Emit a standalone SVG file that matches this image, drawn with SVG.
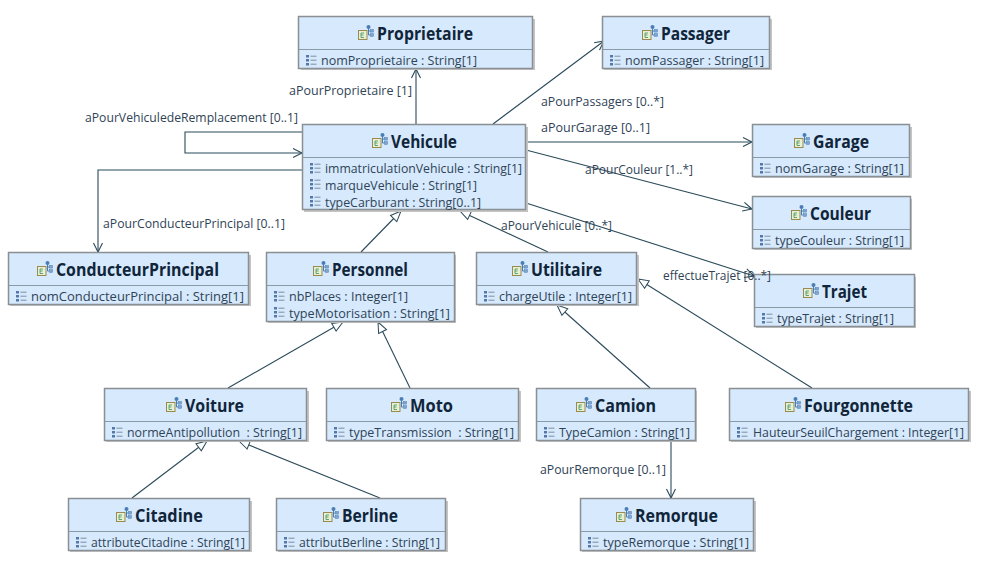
<svg xmlns="http://www.w3.org/2000/svg" width="984" height="567" viewBox="0 0 984 567">
<style>
text{font-family:"Open Sans","Noto Sans","Liberation Sans",sans-serif}
.b{fill:#d6e9fd;stroke:#8a8f93;stroke-width:1.5}
.s{fill:#c4c4c4}
.d{stroke:#8a9aa6;stroke-width:1}
.t{font-size:17px;font-weight:700;fill:#10253a;transform:translateY(.5px)}
.a{font-size:12px;fill:#2f4356}
.l{font-size:12px;fill:#2f4356}
.c{fill:none;stroke:#2a4a5a;stroke-width:1.1}
</style>
<defs>
<marker id="open" markerUnits="userSpaceOnUse" markerWidth="12" markerHeight="12" refX="10" refY="6" orient="auto"><path d="M1 1.5L10 6L1 10.5" fill="none" stroke="#2a4a5a" stroke-width="1.1"/></marker>
<marker id="tri" markerUnits="userSpaceOnUse" markerWidth="14" markerHeight="14" refX="12" refY="7" orient="auto"><path d="M1.5 2.6L12 7L1.5 11.4Z" fill="#fff" stroke="#2a4a5a" stroke-width="1"/></marker>
<g id="ci"><rect x="0.5" y="5.5" width="8.5" height="9" fill="#e6f0d2" stroke="#9a8a50"/><path d="M3 8h3M3 10h2.5M3 12.5h3M3 8v4.5" stroke="#3f8f5f" stroke-width=".8" fill="none"/><circle cx="10.5" cy="2" r="2" fill="#4a7db5"/><path d="M10.5 3v7h2M10.5 6h2" stroke="#4a7db5" fill="none"/><rect x="12.5" y="4.5" width="3" height="2.6" fill="#7fa5cf" stroke="#4a7db5" stroke-width=".5"/><rect x="12.5" y="8.7" width="3" height="2.6" fill="#7fa5cf" stroke="#4a7db5" stroke-width=".5"/></g>
<g id="ai"><rect x="0" y="0" width="3" height="2.5" fill="#5578aa"/><rect x="0" y="4" width="3" height="2.5" fill="#5578aa"/><rect x="0" y="8" width="3" height="2.5" fill="#5578aa"/><path d="M4.5 1.2h6M4.5 5.2h6M4.5 9.2h6" stroke="#7f8f9f"/></g>
</defs>
<g id="connectors">
<path class="c" d="M416 124V69" marker-end="url(#open)"/>
<path class="c" d="M493 124L604 41" marker-end="url(#open)"/>
<path class="c" d="M526 142H752" marker-end="url(#open)"/>
<path class="c" d="M526 150L752 209" marker-end="url(#open)"/>
<path class="c" d="M526 203L754 276" marker-end="url(#open)"/>
<path class="c" d="M302 132H185V153H302" marker-end="url(#open)"/>
<path class="c" d="M302 170H98V252" marker-end="url(#open)"/>
<path class="c" d="M361 252L401 211" marker-end="url(#tri)"/>
<path class="c" d="M548 252L460 211" marker-end="url(#tri)"/>
<path class="c" d="M228 388L343 322" marker-end="url(#tri)"/>
<path class="c" d="M410 388L378 322" marker-end="url(#tri)"/>
<path class="c" d="M650 388L557 305" marker-end="url(#tri)"/>
<path class="c" d="M812 388L638 279" marker-end="url(#tri)"/>
<path class="c" d="M132 498L207 441" marker-end="url(#tri)"/>
<path class="c" d="M380 498L239 441" marker-end="url(#tri)"/>
<path class="c" d="M671 441V498" marker-end="url(#open)"/>
</g>
<g id="Proprietaire"><rect class="s" x="301" y="19" width="234" height="51"/><rect class="b" x="298.5" y="16.5" width="234" height="52"/><path class="d" d="M299 49.5H532"/><use href="#ci" x="358" y="25"/><text class="t" x="377" y="39" textLength="96" lengthAdjust="spacingAndGlyphs">Proprietaire</text><use href="#ai" x="306" y="55"/><text class="a" x="321" y="65" textLength="156" lengthAdjust="spacingAndGlyphs">nomProprietaire : String[1]</text></g>
<g id="Passager"><rect class="s" x="604" y="19" width="168" height="51"/><rect class="b" x="602.5" y="16.5" width="167" height="52"/><path class="d" d="M603 49.5H769"/><use href="#ci" x="642" y="25"/><text class="t" x="661" y="39" textLength="69" lengthAdjust="spacingAndGlyphs">Passager</text><use href="#ai" x="610" y="55"/><text class="a" x="625" y="65" textLength="139" lengthAdjust="spacingAndGlyphs">nomPassager : String[1]</text></g>
<g id="Vehicule"><rect class="s" x="304" y="127" width="224" height="85"/><rect class="b" x="302.5" y="124.5" width="223" height="85"/><path class="d" d="M303 157.5H525"/><use href="#ci" x="372" y="133"/><text class="t" x="391" y="147" textLength="66" lengthAdjust="spacingAndGlyphs">Vehicule</text><use href="#ai" x="310" y="163"/><text class="a" x="325" y="173" textLength="197" lengthAdjust="spacingAndGlyphs">immatriculationVehicule : String[1]</text><use href="#ai" x="310" y="179"/><text class="a" x="325" y="190" textLength="152" lengthAdjust="spacingAndGlyphs">marqueVehicule : String[1]</text><use href="#ai" x="310" y="196"/><text class="a" x="325" y="207" textLength="156" lengthAdjust="spacingAndGlyphs">typeCarburant : String[0..1]</text></g>
<g id="Garage"><rect class="s" x="754" y="127" width="158" height="51"/><rect class="b" x="752.5" y="124.5" width="157" height="52"/><path class="d" d="M753 157.5H909"/><use href="#ci" x="794" y="133"/><text class="t" x="813" y="147" textLength="56" lengthAdjust="spacingAndGlyphs">Garage</text><use href="#ai" x="760" y="163"/><text class="a" x="775" y="173" textLength="129" lengthAdjust="spacingAndGlyphs">nomGarage : String[1]</text></g>
<g id="Couleur"><rect class="s" x="754" y="199" width="158" height="51"/><rect class="b" x="752.5" y="196.5" width="158" height="52"/><path class="d" d="M753 229.5H910"/><use href="#ci" x="791" y="205"/><text class="t" x="810" y="219" textLength="61" lengthAdjust="spacingAndGlyphs">Couleur</text><use href="#ai" x="760" y="235"/><text class="a" x="775" y="245" textLength="129" lengthAdjust="spacingAndGlyphs">typeCouleur : String[1]</text></g>
<g id="Trajet"><rect class="s" x="756" y="277" width="160" height="51"/><rect class="b" x="754.5" y="274.5" width="160" height="52"/><path class="d" d="M755 307.5H914"/><use href="#ci" x="803" y="283"/><text class="t" x="822" y="297" textLength="45" lengthAdjust="spacingAndGlyphs">Trajet</text><use href="#ai" x="762" y="313"/><text class="a" x="777" y="323" textLength="117" lengthAdjust="spacingAndGlyphs">typeTrajet : String[1]</text></g>
<g id="ConducteurPrincipal"><rect class="s" x="10" y="255" width="241" height="51"/><rect class="b" x="8.5" y="252.5" width="240" height="52"/><path class="d" d="M9 285.5H248"/><use href="#ci" x="37" y="261"/><text class="t" x="56" y="275" textLength="163" lengthAdjust="spacingAndGlyphs">ConducteurPrincipal</text><use href="#ai" x="16" y="291"/><text class="a" x="31" y="301" textLength="213" lengthAdjust="spacingAndGlyphs">nomConducteurPrincipal : String[1]</text></g>
<g id="Personnel"><rect class="s" x="268" y="255" width="188" height="68"/><rect class="b" x="266.5" y="252.5" width="188" height="69"/><path class="d" d="M267 285.5H454"/><use href="#ci" x="313" y="261"/><text class="t" x="332" y="275" textLength="76" lengthAdjust="spacingAndGlyphs">Personnel</text><use href="#ai" x="274" y="291"/><text class="a" x="289" y="301" textLength="119" lengthAdjust="spacingAndGlyphs">nbPlaces : Integer[1]</text><use href="#ai" x="274" y="307"/><text class="a" x="289" y="318" textLength="161" lengthAdjust="spacingAndGlyphs">typeMotorisation : String[1]</text></g>
<g id="Utilitaire"><rect class="s" x="478" y="255" width="161" height="51"/><rect class="b" x="476.5" y="252.5" width="160" height="52"/><path class="d" d="M477 285.5H636"/><use href="#ci" x="512" y="261"/><text class="t" x="531" y="275" textLength="71" lengthAdjust="spacingAndGlyphs">Utilitaire</text><use href="#ai" x="484" y="291"/><text class="a" x="499" y="301" textLength="133" lengthAdjust="spacingAndGlyphs">chargeUtile : Integer[1]</text></g>
<g id="Voiture"><rect class="s" x="106" y="391" width="203" height="51"/><rect class="b" x="104.5" y="388.5" width="202" height="52"/><path class="d" d="M105 421.5H306"/><use href="#ci" x="166" y="397"/><text class="t" x="185" y="411" textLength="59" lengthAdjust="spacingAndGlyphs">Voiture</text><use href="#ai" x="112" y="427"/><text class="a" x="127" y="437" textLength="175" lengthAdjust="spacingAndGlyphs" xml:space="preserve">normeAntipollution  : String[1]</text></g>
<g id="Moto"><rect class="s" x="328" y="391" width="193" height="51"/><rect class="b" x="326.5" y="388.5" width="192" height="52"/><path class="d" d="M327 421.5H518"/><use href="#ci" x="391" y="397"/><text class="t" x="410" y="411" textLength="43" lengthAdjust="spacingAndGlyphs">Moto</text><use href="#ai" x="334" y="427"/><text class="a" x="349" y="437" textLength="165" lengthAdjust="spacingAndGlyphs" xml:space="preserve">typeTransmission  : String[1]</text></g>
<g id="Camion"><rect class="s" x="538" y="391" width="159" height="51"/><rect class="b" x="536.5" y="388.5" width="159" height="52"/><path class="d" d="M537 421.5H695"/><use href="#ci" x="576" y="397"/><text class="t" x="595" y="411" textLength="61" lengthAdjust="spacingAndGlyphs">Camion</text><use href="#ai" x="544" y="427"/><text class="a" x="559" y="437" textLength="131" lengthAdjust="spacingAndGlyphs">TypeCamion : String[1]</text></g>
<g id="Fourgonnette"><rect class="s" x="731" y="391" width="240" height="51"/><rect class="b" x="729.5" y="388.5" width="239" height="52"/><path class="d" d="M730 421.5H968"/><use href="#ci" x="785" y="397"/><text class="t" x="804" y="411" textLength="109" lengthAdjust="spacingAndGlyphs">Fourgonnette</text><use href="#ai" x="737" y="427"/><text class="a" x="753" y="437" textLength="211" lengthAdjust="spacingAndGlyphs">HauteurSeuilChargement : Integer[1]</text></g>
<g id="Citadine"><rect class="s" x="70" y="501" width="182" height="51"/><rect class="b" x="68.5" y="498.5" width="181" height="52"/><path class="d" d="M69 531.5H249"/><use href="#ci" x="116" y="507"/><text class="t" x="135" y="521" textLength="68" lengthAdjust="spacingAndGlyphs">Citadine</text><use href="#ai" x="76" y="537"/><text class="a" x="91" y="547" textLength="154" lengthAdjust="spacingAndGlyphs">attributeCitadine : String[1]</text></g>
<g id="Berline"><rect class="s" x="278" y="501" width="170" height="51"/><rect class="b" x="276.5" y="498.5" width="169" height="52"/><path class="d" d="M277 531.5H445"/><use href="#ci" x="323" y="507"/><text class="t" x="342" y="521" textLength="56" lengthAdjust="spacingAndGlyphs">Berline</text><use href="#ai" x="284" y="537"/><text class="a" x="299" y="547" textLength="141" lengthAdjust="spacingAndGlyphs">attributBerline : String[1]</text></g>
<g id="Remorque"><rect class="s" x="582" y="501" width="174" height="51"/><rect class="b" x="580.5" y="498.5" width="173" height="52"/><path class="d" d="M581 531.5H753"/><use href="#ci" x="616" y="507"/><text class="t" x="635" y="521" textLength="83" lengthAdjust="spacingAndGlyphs">Remorque</text><use href="#ai" x="588" y="537"/><text class="a" x="603" y="547" textLength="146" lengthAdjust="spacingAndGlyphs">typeRemorque : String[1]</text></g>
<g id="labels">
<text class="l" x="289" y="95" textLength="123" lengthAdjust="spacingAndGlyphs">aPourProprietaire [1]</text>
<text class="l" x="541" y="106" textLength="123" lengthAdjust="spacingAndGlyphs">aPourPassagers [0..*]</text>
<text class="l" x="541" y="132" textLength="109" lengthAdjust="spacingAndGlyphs">aPourGarage [0..1]</text>
<text class="l" x="585" y="174" textLength="108" lengthAdjust="spacingAndGlyphs">aPourCouleur [1..*]</text>
<text class="l" x="85" y="122" textLength="213" lengthAdjust="spacingAndGlyphs">aPourVehiculedeRemplacement [0..1]</text>
<text class="l" x="103" y="228" textLength="182" lengthAdjust="spacingAndGlyphs">aPourConducteurPrincipal [0..1]</text>
<text class="l" x="501" y="230" textLength="111" lengthAdjust="spacingAndGlyphs">aPourVehicule [0..*]</text>
<text class="l" x="663" y="280" textLength="108" lengthAdjust="spacingAndGlyphs">effectueTrajet [0..*]</text>
<text class="l" x="540" y="474" textLength="126" lengthAdjust="spacingAndGlyphs">aPourRemorque [0..1]</text>
</g>
</svg>
